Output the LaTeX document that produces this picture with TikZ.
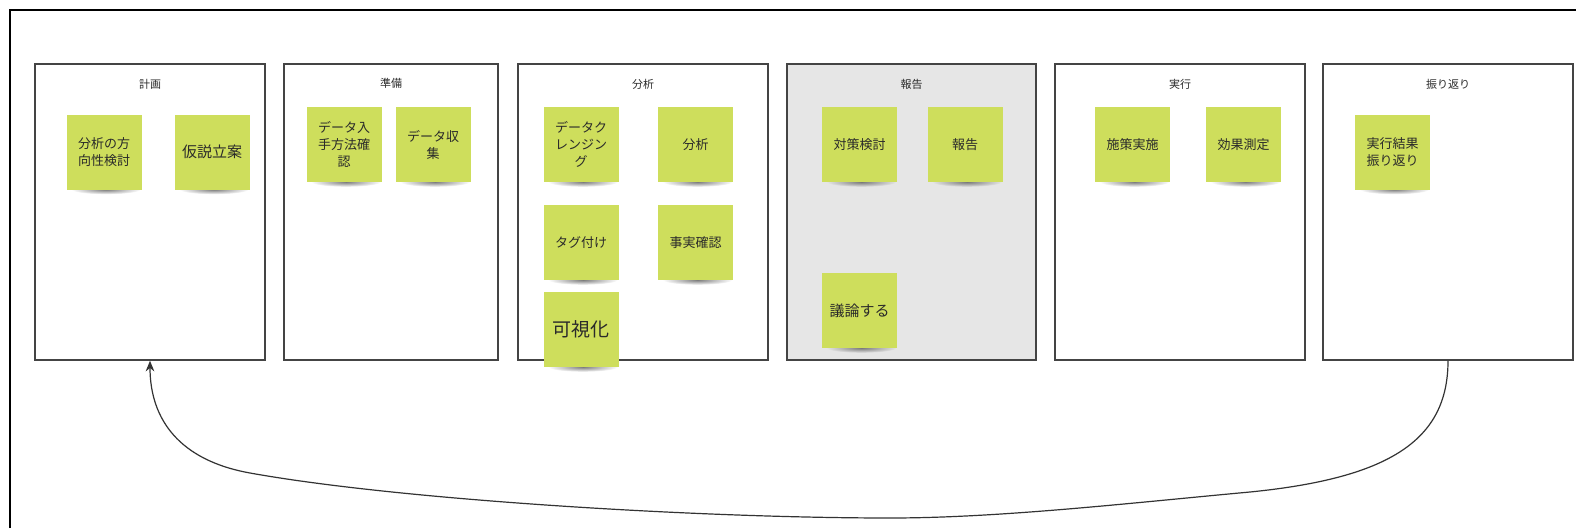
\documentclass[tikz,border=0pt]{standalone}
\usepackage{fontspec}
\setmainfont{Noto Sans CJK JP}
\usetikzlibrary{arrows.meta,fadings}
\tikzfading[name=shfade, inner color=transparent!15, outer color=transparent!100]
\definecolor{stickyc}{HTML}{CEDE5C}
\definecolor{boxline}{HTML}{444444}
\definecolor{txt}{HTML}{2A2A2A}
\definecolor{grayfill}{HTML}{E6E6E6}
\tikzset{
  lane/.style={draw=boxline, line width=1.1pt, fill=white, minimum height=222pt, inner sep=0pt},
  lanetitle/.style={font=\fontsize{8.25pt}{10pt}\selectfont, text=txt, inner sep=0pt},
  note/.style={fill=stickyc, minimum width=56.25pt, minimum height=56.25pt, inner sep=0pt, align=center, text=txt, font=\fontsize{9.75pt}{12.75pt}\selectfont},
  bignote/.style={note, font=\fontsize{11.25pt}{14pt}\selectfont},
  hugenote/.style={note, font=\fontsize{14.25pt}{17pt}\selectfont},
  notesh/.style={black!60, path fading=shfade},
  link/.style={draw=black!80, line width=0.9pt, -{Stealth[length=8pt,width=6.5pt]}}
}
\newcommand{\mknote}[5]{%
  \fill[notesh] (#2+2,#3+37.5) ellipse [x radius=26pt, y radius=3.6pt];
  \node[#5] (#1) at (#2,#3) {#4};}
\begin{document}
\begin{tikzpicture}[x=0.75pt,y=-0.75pt]
\useasboundingbox (0,0) rectangle (1576,528);
\fill[white] (0,0) rectangle (1576,528);
% outer frame (only left and top edges visible)
\draw[line width=1.5pt, black] (10,528) -- (10,10) -- (1576,10);
% lanes
\node[lane, minimum width=172.5pt] (b1) at (150,212) {};
\node[lane, minimum width=160.5pt] (b2) at (391,212) {};
\node[lane, minimum width=187.5pt] (b3) at (643,212) {};
\node[lane, minimum width=186.75pt, fill=grayfill] (b4) at (911.5,212) {};
\node[lane, minimum width=187.5pt] (b5) at (1180,212) {};
\node[lane, minimum width=187.5pt] (b6) at (1448,212) {};
% titles
\node[lanetitle] (t1) at (150,84) {計画};
\node[lanetitle] (t2) at (391,83) {準備};
\node[lanetitle] (t3) at (643,84) {分析};
\node[lanetitle] (t4) at (911.5,84) {報告};
\node[lanetitle] (t5) at (1180,84) {実行};
\node[lanetitle] (t6) at (1448,84) {振り返り};
% notes
\mknote{n11}{104}{152}{分析の方\\向性検討}{note}
\mknote{n12}{212}{152}{仮説立案}{bignote}
\mknote{n21}{344}{144.5}{データ入\\手方法確\\認}{note}
\mknote{n22}{433}{144.5}{データ収\\集}{note}
\mknote{n31}{581}{144.5}{データク\\レンジン\\グ}{note}
\mknote{n32}{695.5}{144.5}{分析}{note}
\mknote{n33}{581}{242.5}{タグ付け}{note}
\mknote{n34}{695.5}{242.5}{事実確認}{note}
\mknote{n35}{581}{329.5}{可視化}{hugenote}
\mknote{n41}{859.5}{144.5}{対策検討}{note}
\mknote{n42}{965}{144.5}{報告}{note}
\mknote{n43}{859.5}{310.5}{議論する}{bignote}
\mknote{n51}{1132.5}{144.5}{施策実施}{note}
\mknote{n52}{1243.5}{144.5}{効果測定}{note}
\mknote{n61}{1392.5}{152}{実行結果\\振り返り}{note}
% feedback connector
\draw[link] (b6.south) .. controls (1448,440) and (1390,478) .. (1250,492)
  .. controls (1130,503) and (1000,518) .. (890,518)
  .. controls (700,518) and (400,500) .. (250,473)
  .. controls (180,460.4) and (150,420) .. (b1.south);
\end{tikzpicture}
\end{document}
